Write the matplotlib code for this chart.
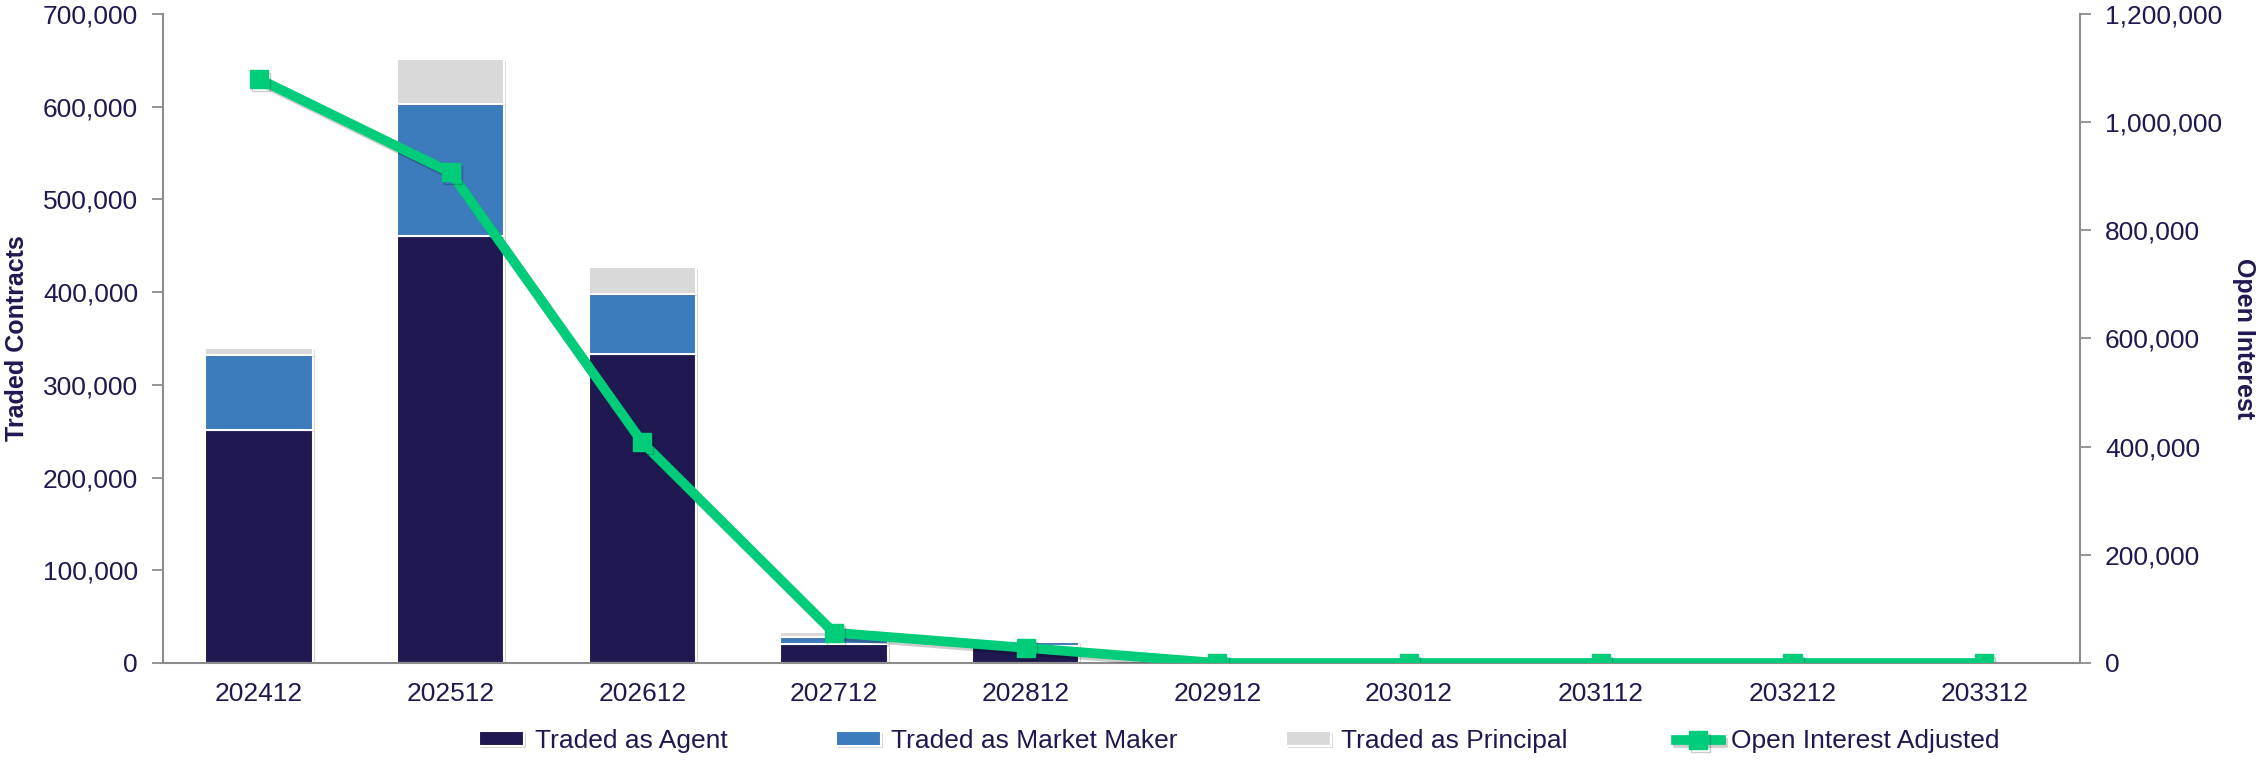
import matplotlib
matplotlib.use("Agg")
import matplotlib.pyplot as plt
import matplotlib.patheffects as pe
import numpy as np
from matplotlib.ticker import FuncFormatter

# chart values
months = ["202412", "202512", "202612", "202712", "202812",
          "202912", "203012", "203112", "203212", "203312"]
agent = [251000, 461000, 333000, 20000, 18000, 0, 0, 0, 0, 0]
market_maker = [81000, 142000, 65000, 8000, 4500, 0, 0, 0, 0, 0]
principal = [8000, 49000, 29000, 5000, 1500, 0, 0, 0, 0, 0]
open_interest = [1080000, 907000, 408000, 56000, 28000, 0, 0, 0, 0, 0]

navy = "#201850"
blue = "#3C7BBC"
grey = "#D9D9D9"
green = "#00CC7A"
spine = "#8C8C8C"

plt.rcParams["font.family"] = ["Liberation Sans", "DejaVu Sans"]

fig = plt.figure(figsize=(22.58, 7.61), dpi=100)
ax = fig.add_axes([0.0722, 0.1288, 0.9212 - 0.0722, 0.9816 - 0.1288])
ax2 = ax.twinx()

x = np.arange(len(months))
agent = np.array(agent)
market_maker = np.array(market_maker)
principal = np.array(principal)

shadow = [pe.SimplePatchShadow(offset=(1.5, -1.5), alpha=0.18), pe.Normal()]
w = 0.56
b1 = ax.bar(x, agent, w, color=navy, edgecolor="white", linewidth=1.5,
            label="Traded as Agent")
b2 = ax.bar(x, market_maker, w, bottom=agent, color=blue, edgecolor="white",
            linewidth=1.5, label="Traded as Market Maker")
b3 = ax.bar(x, principal, w, bottom=agent + market_maker, color=grey,
            edgecolor="white", linewidth=1.5, label="Traded as Principal")
for bars in (b1, b2, b3):
    for p in bars:
        p.set_path_effects(shadow)

ln, = ax2.plot(x, open_interest, color=green, lw=7, marker="s", ms=13,
               solid_joinstyle="miter", label="Open Interest Adjusted",
               path_effects=[pe.SimpleLineShadow(offset=(1.5, -2), alpha=0.2),
                             pe.Normal()])

ax.set_xlim(-0.5, len(months) - 0.5)
ax.set_ylim(0, 700000)
ax2.set_ylim(0, 1200000)
ax.set_yticks(np.arange(0, 700001, 100000))
ax2.set_yticks(np.arange(0, 1200001, 200000))
fmt = FuncFormatter(lambda v, p: f"{int(v):,}")
ax.yaxis.set_major_formatter(fmt)
ax2.yaxis.set_major_formatter(fmt)

ax.set_xticks(x)
ax.set_xticklabels(months)

for a in (ax, ax2):
    a.spines["top"].set_visible(False)
    for s in ("left", "right", "bottom"):
        a.spines[s].set_color(spine)
        a.spines[s].set_linewidth(1.5)
    a.tick_params(axis="y", colors=spine, labelcolor=navy, labelsize=19,
                  length=8, width=1.3, pad=10)
ax.spines["right"].set_visible(False)
ax2.spines["left"].set_visible(False)
ax2.spines["bottom"].set_visible(False)
ax.tick_params(axis="x", length=0, labelcolor=navy, labelsize=19, pad=14)

ax.set_ylabel("Traded Contracts", fontsize=18, fontweight="bold", color=navy,
              labelpad=10)
ax2.set_ylabel("Open Interest", fontsize=18, fontweight="bold", color=navy,
               rotation=-90, labelpad=24)

handles = [b1, b2, b3, ln]
fig.legend(handles, [h.get_label() for h in handles], loc="center",
           bbox_to_anchor=(0.549, 0.026), ncol=4, frameon=False, fontsize=19,
           labelcolor=navy, handlelength=1.7, handletextpad=0.4,
           columnspacing=4.1, handleheight=0.5)

fig.savefig("out.png", dpi=100)
